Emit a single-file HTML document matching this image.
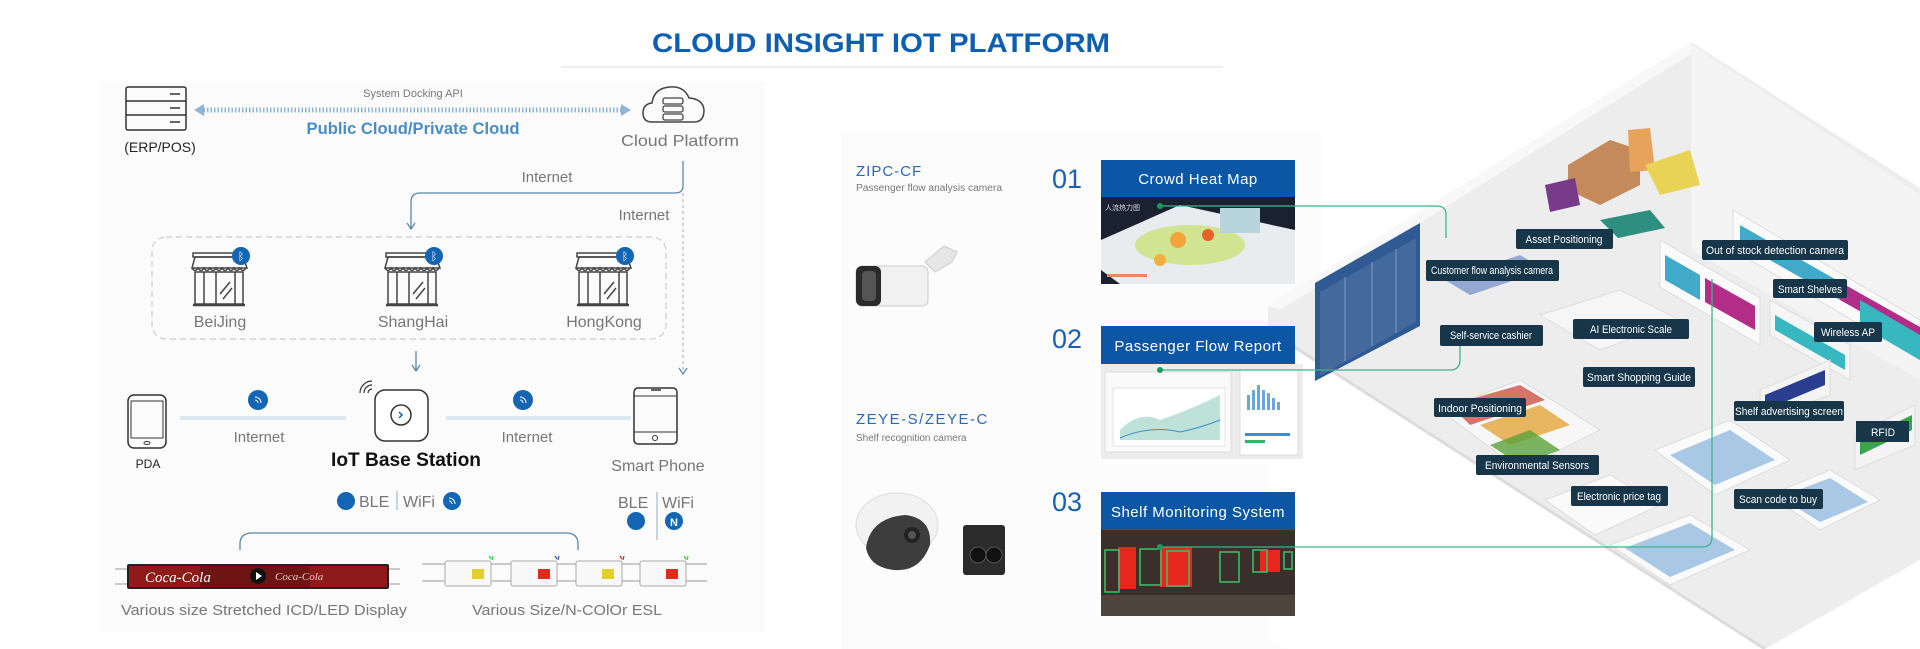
<!DOCTYPE html>
<html><head><meta charset="utf-8"><style>
html,body{margin:0;padding:0;background:#fff;}
svg{display:block;font-family:"Liberation Sans","Noto Sans CJK SC",sans-serif;}
</style></head><body>
<svg width="1920" height="649" viewBox="0 0 1920 649" xmlns="http://www.w3.org/2000/svg">
<defs>
<marker id="ah" markerWidth="10" markerHeight="10" refX="8" refY="5" orient="auto" markerUnits="userSpaceOnUse"><path d="M2,1 L8,5 L2,9" fill="none" stroke="#5a87a8" stroke-width="1.2"/></marker>
<g id="st" fill="none" stroke="#444" stroke-width="1.5">
<rect x="-27" y="-27" width="50" height="4"/>
<path d="M-28,-12 L-25,-23 L23,-23 L27,-12 Z"/>
<path d="M-28,-12 q3,5 6,0 q3,5 6,0 q3,5 6,0 q3,5 6,0 q3,5 6,0 q3,5 6,0 q3,5 6,0 q3,5 6,0 q3,5 6,0"/>
<rect x="-25" y="-8" width="48" height="32"/>
<line x1="-16" y1="-8" x2="-16" y2="24"/><line x1="-4" y1="-8" x2="-4" y2="24"/><line x1="15" y1="-8" x2="15" y2="24"/>
<line x1="0" y1="14" x2="10" y2="2"/><line x1="3" y1="19" x2="12" y2="8"/>
<line x1="-27" y1="25" x2="25" y2="25" stroke-width="2.5"/>
</g>
</defs>
<!-- backgrounds -->
<rect x="100" y="82" width="665" height="550" fill="#fbfbfb"/>
<rect x="841" y="132" width="480" height="517" fill="#fcfcfc"/>

<!-- store illustration -->
<polygon points="1268,306 1691,42 1920,188 1920,560 1765,649 1268,330" fill="#ededed"/>
<polygon points="1691,44 1691,250 1920,380 1920,195" fill="#f4f4f4"/>
<polygon points="1268,306 1691,42 1691,54 1280,310" fill="#f8f8f8"/>
<polygon points="1268,330 1765,649 1290,649 1268,640" fill="#fff"/>
<line x1="1268" y1="330" x2="1765" y2="649" stroke="#dcdcdc" stroke-width="3"/>
<polygon points="1315,283 1420,223 1420,326 1315,381" fill="#2f5a93"/>
<polygon points="1320,292 1416,238 1416,322 1320,376" fill="#44699c"/>
<g stroke="#7f9cc4" stroke-width="1"><line x1="1345" y1="277" x2="1345" y2="361"/><line x1="1372" y1="262" x2="1372" y2="346"/><line x1="1396" y1="249" x2="1396" y2="333"/></g>
<polygon points="1733,210 1920,320 1920,360 1733,250" fill="#fafafa" stroke="#ddd"/>
<polygon points="1740,225 1840,282 1840,300 1740,243" fill="#41a9c9"/>
<polygon points="1840,282 1920,327 1920,345 1840,300" fill="#b22d87"/>
<polygon points="1660,240 1760,298 1760,345 1660,287" fill="#fafafa" stroke="#ddd"/>
<polygon points="1665,255 1700,275 1700,300 1665,280" fill="#41a9c9"/>
<polygon points="1705,278 1755,306 1755,330 1705,302" fill="#b22d87"/>
<polygon points="1770,300 1850,345 1850,380 1770,335" fill="#f5f5f5" stroke="#ddd"/>
<polygon points="1775,315 1845,355 1845,370 1775,330" fill="#37b7c0"/>
<polygon points="1860,300 1920,335 1920,360 1860,325" fill="#37b7c0"/>
<polygon points="1568,165 1610,140 1640,150 1640,185 1600,205 1568,190" fill="#c48a5c"/>
<polygon points="1628,130 1650,128 1655,170 1630,172" fill="#e7a25c"/>
<polygon points="1645,165 1690,150 1700,185 1660,195" fill="#e9d354"/>
<polygon points="1545,185 1575,178 1580,205 1550,212" fill="#7a3a8a"/>
<polygon points="1600,220 1650,210 1665,228 1618,238" fill="#2e8e7f"/>
<polygon points="1445,280 1520,255 1545,270 1470,295" fill="#6c8cc9" opacity="0.7"/>
<polygon points="1540,315 1620,290 1680,320 1600,350" fill="#f6f6f6" stroke="#ddd"/>
<polygon points="1440,410 1520,380 1600,430 1520,470" fill="#f7f7f7" stroke="#ddd"/>
<polygon points="1450,405 1520,385 1545,400 1470,425" fill="#c73a2e" opacity="0.7"/>
<polygon points="1480,425 1540,405 1570,425 1510,445" fill="#e3a53a" opacity="0.8"/>
<polygon points="1490,445 1530,430 1560,450 1520,465" fill="#5aa33a" opacity="0.8"/>
<polygon points="1655,450 1730,420 1790,460 1715,495" fill="#fafafa" stroke="#ddd"/>
<polygon points="1670,455 1730,430 1775,460 1715,485" fill="#a9c8e6"/>
<polygon points="1770,495 1830,470 1880,500 1820,530" fill="#fafafa" stroke="#ddd"/>
<polygon points="1780,497 1830,478 1868,502 1820,522" fill="#a9c8e6"/>
<polygon points="1610,545 1690,515 1750,550 1670,585" fill="#fafafa" stroke="#ddd"/>
<polygon points="1625,548 1690,523 1735,550 1670,577" fill="#a9c8e6"/>
<polygon points="1545,500 1610,475 1660,505 1595,535" fill="#fafafa" stroke="#ddd"/>
<polygon points="1760,390 1830,360 1830,395 1760,420" fill="#f4f4f4" stroke="#ddd"/>
<polygon points="1765,395 1825,370 1825,385 1765,410" fill="#2a3d8f"/>
<polygon points="1855,435 1915,405 1915,445 1855,470" fill="#f4f4f4" stroke="#ddd"/>
<polygon points="1860,440 1912,415 1912,430 1860,455" fill="#3ba34a"/>

<!-- title -->
<text x="881" y="52" text-anchor="middle" font-size="27" font-weight="bold" fill="#0d5fb3" textLength="458" lengthAdjust="spacingAndGlyphs">CLOUD INSIGHT IOT PLATFORM</text>
<line x1="561" y1="67" x2="1223" y2="67" stroke="#dddddd" stroke-width="1"/>

<!-- server icon -->
<g fill="none" stroke="#333" stroke-width="1.5">
<rect x="126" y="87" width="60" height="43" rx="2"/>
<line x1="126" y1="101" x2="186" y2="101"/><line x1="126" y1="115" x2="186" y2="115"/>
<line x1="170" y1="94" x2="180" y2="94"/><line x1="170" y1="108" x2="180" y2="108"/><line x1="170" y1="122" x2="180" y2="122"/>
</g>
<text x="160" y="152" text-anchor="middle" font-size="14" fill="#222">(ERP/POS)</text>
<text x="413" y="97" text-anchor="middle" font-size="11" fill="#777">System Docking API</text>
<line x1="200" y1="110" x2="626" y2="110" stroke="#8fb6d8" stroke-width="5" stroke-dasharray="1.5 2"/>
<path d="M194,110 L204,104 L204,116Z M631,110 L621,104 L621,116Z" fill="#8fb6d8"/>
<text x="413" y="134" text-anchor="middle" font-size="17" font-weight="bold" fill="#4a8dc6" textLength="213" lengthAdjust="spacingAndGlyphs">Public Cloud/Private Cloud</text>
<path d="M652,122 Q643,122 643,113 Q643,104 652,103 Q654,88 670,87 Q684,86 689,98 Q703,99 704,110 Q704,122 694,122 Z" fill="none" stroke="#444" stroke-width="1.5"/>
<g fill="none" stroke="#444" stroke-width="1.3"><rect x="663" y="98" width="20" height="6" rx="2"/><rect x="663" y="106" width="20" height="6" rx="2"/><rect x="663" y="114" width="20" height="6" rx="2"/></g>
<text x="680" y="146" text-anchor="middle" font-size="16" fill="#777" textLength="118" lengthAdjust="spacingAndGlyphs">Cloud Platform</text>
<path d="M683,161 L683,186 Q683,193 675,193 L420,193 Q411,193 411,202 L411,229" fill="none" stroke="#5a87a8" stroke-width="1.3" marker-end="url(#ah)"/>
<text x="547" y="182" text-anchor="middle" font-size="15" fill="#777">Internet</text>
<path d="M683,193 L683,374" fill="none" stroke="#a8bfcf" stroke-width="1.2" stroke-dasharray="3 3" marker-end="url(#ah)"/>
<text x="644" y="220" text-anchor="middle" font-size="15" fill="#777">Internet</text>
<rect x="152" y="237" width="514" height="102" rx="14" fill="none" stroke="#ccc" stroke-width="1.2" stroke-dasharray="6 4"/>
<use href="#st" x="220" y="280"/><use href="#st" x="413" y="280"/><use href="#st" x="604" y="280"/>
<g fill="#1565b5"><circle cx="241" cy="256" r="9"/><circle cx="434" cy="256" r="9"/><circle cx="625" cy="256" r="9"/></g>
<g font-size="11" fill="#fff" text-anchor="middle"><text x="241" y="260">ᛒ</text><text x="434" y="260">ᛒ</text><text x="625" y="260">ᛒ</text></g>
<g font-size="16" fill="#777" text-anchor="middle"><text x="220" y="327">BeiJing</text><text x="413" y="327">ShangHai</text><text x="604" y="327">HongKong</text></g>
<line x1="416" y1="351" x2="416" y2="371" stroke="#5a87a8" stroke-width="1.3" marker-end="url(#ah)"/>
<rect x="128" y="395" width="38" height="53" rx="6" fill="none" stroke="#333" stroke-width="1.5"/>
<rect x="131" y="401" width="32" height="37" fill="none" stroke="#333" stroke-width="1"/>
<ellipse cx="147" cy="443" rx="3" ry="1.5" fill="none" stroke="#333"/>
<text x="148" y="468" text-anchor="middle" font-size="12" fill="#222">PDA</text>
<rect x="180" y="416" width="166" height="4" fill="#dbe8ef"/>
<rect x="446" y="416" width="185" height="4" fill="#dbe8ef"/>
<circle cx="258" cy="400" r="10" fill="#1565b5"/><circle cx="523" cy="400" r="10" fill="#1565b5"/>
<g stroke="#fff" fill="none" stroke-width="1"><path d="M255,397 a6,6 0 0 1 6,6 M255,400 a3,3 0 0 1 3,3"/><path d="M520,397 a6,6 0 0 1 6,6 M520,400 a3,3 0 0 1 3,3"/></g>
<text x="259" y="442" text-anchor="middle" font-size="15" fill="#777">Internet</text>
<text x="527" y="442" text-anchor="middle" font-size="15" fill="#777">Internet</text>
<rect x="375" y="390" width="53" height="51" rx="10" fill="#fff" stroke="#333" stroke-width="1.5"/>
<circle cx="401" cy="415" r="10" fill="none" stroke="#333" stroke-width="1.5"/>
<path d="M399,412 l3,3 l-3,3" fill="none" stroke="#1565b5" stroke-width="1.5"/>
<g fill="none" stroke="#333" stroke-width="1.2"><path d="M364,393 a8,8 0 0 1 8,-8"/><path d="M368,393 a4,4 0 0 1 4,-4"/><path d="M360,393 a12,12 0 0 1 12,-12"/></g>
<text x="406" y="466" text-anchor="middle" font-size="19" font-weight="bold" fill="#111" textLength="150" lengthAdjust="spacingAndGlyphs">IoT Base Station</text>
<rect x="634" y="388" width="43" height="56" rx="4" fill="none" stroke="#333" stroke-width="1.5"/>
<line x1="634" y1="396" x2="677" y2="396" stroke="#333"/><line x1="634" y1="432" x2="677" y2="432" stroke="#333"/>
<line x1="651" y1="390" x2="661" y2="390" stroke="#333" stroke-width="1.5"/>
<circle cx="655" cy="438" r="2.5" fill="none" stroke="#333"/>
<text x="658" y="471" text-anchor="middle" font-size="16" fill="#777">Smart Phone</text>
<circle cx="346" cy="501" r="9" fill="#1565b5"/>
<text x="359" y="507" font-size="16" fill="#777">BLE</text>
<line x1="397" y1="491" x2="397" y2="510" stroke="#c5d6e2" stroke-width="2"/>
<text x="403" y="507" font-size="16" fill="#777">WiFi</text>
<circle cx="452" cy="501" r="9" fill="#1565b5"/>
<path d="M449,498 a6,6 0 0 1 6,6 M449,501 a3,3 0 0 1 3,3" stroke="#fff" fill="none"/>
<text x="618" y="508" font-size="16" fill="#777">BLE</text>
<line x1="657" y1="492" x2="657" y2="540" stroke="#c5d6e2" stroke-width="2"/>
<text x="662" y="508" font-size="16" fill="#777">WiFi</text>
<circle cx="636" cy="521" r="9" fill="#1565b5"/><circle cx="674" cy="521" r="9" fill="#1565b5"/>
<text x="674" y="526" text-anchor="middle" font-size="11" font-weight="bold" fill="#fff">N</text>
<path d="M240,550 L240,544 Q240,533 252,533 L566,533 Q578,533 578,544 L578,550" fill="none" stroke="#5a87a8" stroke-width="1.3"/>
<line x1="115" y1="569" x2="400" y2="569" stroke="#999" stroke-width="1"/><line x1="115" y1="584" x2="400" y2="584" stroke="#999" stroke-width="1"/>
<rect x="127" y="564" width="262" height="25" rx="2" fill="#222"/>
<rect x="129" y="566" width="258" height="21" fill="#8e1a1a"/>
<rect x="200" y="566" width="110" height="21" fill="#5a1010" opacity="0.6"/>
<text x="145" y="582" font-size="15" font-style="italic" font-family="Liberation Serif,serif" fill="#fff">Coca-Cola</text>
<text x="275" y="580" font-size="11" font-style="italic" font-family="Liberation Serif,serif" fill="#e7c9c9">Coca-Cola</text>
<circle cx="258" cy="576" r="8" fill="#111"/><path d="M256,572 L262,576 L256,580Z" fill="#fff"/>
<line x1="422" y1="564" x2="707" y2="564" stroke="#999"/><line x1="422" y1="581" x2="707" y2="581" stroke="#999"/>
<g stroke="#aaa" fill="#f8f8f8">
<rect x="445" y="561" width="46" height="25" rx="2"/><rect x="511" y="561" width="46" height="25" rx="2"/><rect x="576" y="561" width="46" height="25" rx="2"/><rect x="640" y="561" width="46" height="25" rx="2"/>
</g>
<rect x="472" y="569" width="12" height="10" fill="#e2cf2a"/><rect x="538" y="569" width="12" height="10" fill="#e02a1d"/><rect x="602" y="569" width="12" height="10" fill="#e2cf2a"/><rect x="666" y="569" width="12" height="10" fill="#e02a1d"/>
<g stroke-width="1.2"><path d="M489,556 l2,3 M493,556 l-1,4" stroke="#3c3"/><path d="M555,556 l2,3 M559,556 l-1,4" stroke="#25a"/><path d="M620,556 l2,3 M624,556 l-1,4" stroke="#d23"/><path d="M684,556 l2,3 M688,556 l-1,4" stroke="#3c3"/></g>
<text x="264" y="615" text-anchor="middle" font-size="15" fill="#777" textLength="286" lengthAdjust="spacingAndGlyphs">Various size Stretched ICD/LED Display</text>
<text x="567" y="615" text-anchor="middle" font-size="15" fill="#777" textLength="190" lengthAdjust="spacingAndGlyphs">Various Size/N-COlOr ESL</text>

<!-- middle -->
<text x="856" y="176" font-size="15" fill="#2a68b8" letter-spacing="1">ZIPC-CF</text>
<text x="856" y="191" font-size="10" fill="#777" textLength="146" lengthAdjust="spacingAndGlyphs">Passenger flow analysis camera</text>
<path d="M925,262 L944,246 L957,252 L952,262 L935,272 Z" fill="#e7e7e7" stroke="#ccc"/>
<rect x="856" y="266" width="72" height="40" rx="6" fill="#f1f1f1" stroke="#ccc"/>
<rect x="856" y="266" width="25" height="40" rx="6" fill="#2a2a2a"/>
<rect x="862" y="271" width="14" height="30" rx="4" fill="#555"/>
<text x="856" y="424" font-size="15" fill="#2a68b8" letter-spacing="1.5">ZEYE-S/ZEYE-C</text>
<text x="856" y="441" font-size="10" fill="#777">Shelf recognition camera</text>
<ellipse cx="897" cy="525" rx="41" ry="32" fill="#f2f2f2" stroke="#ddd"/>
<path d="M866,548 Q870,518 905,515 Q932,518 930,545 Q920,572 895,570 Q870,568 866,548Z" fill="#3d3d3d"/>
<circle cx="912" cy="535" r="8" fill="#222"/><circle cx="912" cy="535" r="4" fill="#555"/>
<rect x="963" y="525" width="42" height="50" rx="3" fill="#2b2b2b"/>
<circle cx="978" cy="555" r="8" fill="#111" stroke="#555"/><circle cx="994" cy="555" r="8" fill="#111" stroke="#555"/>
<g font-size="27" fill="#1a5fb4"><text x="1052" y="188">01</text><text x="1052" y="348">02</text><text x="1052" y="511">03</text></g>
<!-- box 1 -->
<rect x="1101" y="160" width="194" height="37" fill="#0b57a6"/>
<text x="1198" y="184" text-anchor="middle" font-size="15" fill="#fff" letter-spacing="0.5">Crowd Heat Map</text>
<rect x="1101" y="197" width="194" height="87" fill="#1a2232"/>
<path d="M1101,240 L1180,205 L1295,230 L1295,284 L1120,284 L1101,270Z" fill="#e8ecef"/>
<ellipse cx="1190" cy="245" rx="55" ry="20" fill="#c9e27a" opacity="0.8"/>
<circle cx="1178" cy="240" r="8" fill="#f3a43a"/><circle cx="1208" cy="235" r="6" fill="#e9602a"/><circle cx="1160" cy="260" r="6" fill="#f0b040"/>
<rect x="1220" y="208" width="40" height="25" fill="#b8d4dc"/>
<text x="1105" y="210" font-size="7" fill="#ddd">人流热力图</text>
<rect x="1107" y="274" width="40" height="3" fill="#e85"/>
<!-- box 2 -->
<rect x="1101" y="326" width="194" height="38" fill="#0b57a6"/>
<text x="1198" y="351" text-anchor="middle" font-size="15" fill="#fff" letter-spacing="0.5">Passenger Flow Report</text>
<rect x="1101" y="364" width="202" height="95" fill="#ececec"/>
<rect x="1105" y="372" width="126" height="80" fill="#fafafa" stroke="#ddd"/>
<rect x="1113" y="388" width="112" height="58" fill="#fff" stroke="#e4e4e4"/>
<path d="M1120,430 Q1140,410 1160,420 Q1190,410 1220,395 L1220,440 L1120,440Z" fill="#bfe2d8"/>
<path d="M1120,438 Q1150,425 1180,432 Q1200,428 1220,420" fill="none" stroke="#3b8fd0"/>
<rect x="1240" y="370" width="58" height="85" fill="#fff" stroke="#ddd"/>
<g fill="#6aa6dc"><rect x="1247" y="395" width="3" height="15"/><rect x="1252" y="390" width="3" height="20"/><rect x="1257" y="385" width="3" height="25"/><rect x="1262" y="390" width="3" height="20"/><rect x="1267" y="393" width="3" height="17"/><rect x="1272" y="398" width="3" height="12"/><rect x="1277" y="402" width="3" height="8"/></g>
<rect x="1245" y="433" width="45" height="3" fill="#3b8fd0"/><rect x="1245" y="440" width="20" height="3" fill="#3bb06a"/>
<!-- box 3 -->
<rect x="1101" y="492" width="194" height="38" fill="#0b57a6"/>
<text x="1198" y="517" text-anchor="middle" font-size="15" fill="#fff" letter-spacing="0.5">Shelf Monitoring System</text>
<rect x="1101" y="530" width="194" height="86" fill="#3a2f2a"/>
<g fill="#e5271e"><rect x="1118" y="547" width="18" height="42"/><rect x="1160" y="547" width="32" height="40"/><rect x="1260" y="550" width="20" height="22"/></g>
<g fill="none" stroke="#3ac26a" stroke-width="1.5"><rect x="1105" y="550" width="14" height="42"/><rect x="1140" y="549" width="21" height="36"/><rect x="1167" y="551" width="22" height="35"/><rect x="1220" y="552" width="19" height="30"/><rect x="1253" y="550" width="14" height="22"/><rect x="1284" y="552" width="8" height="17"/></g>
<rect x="1101" y="595" width="194" height="21" fill="#4e443b"/>

<!-- green connector lines -->
<g fill="none" stroke="#3fb58a" stroke-width="1.3">
<path d="M1160,206 L1436,206 Q1446,206 1446,214 L1446,238"/>
<path d="M1160,370 L1450,370 Q1460,370 1460,360 L1460,335"/>
<path d="M1160,547 L1702,547 Q1712,547 1712,537 L1712,279"/>
</g>
<g fill="#1a9a5c"><circle cx="1160" cy="206" r="3"/><circle cx="1160" cy="370" r="3"/><circle cx="1160" cy="547" r="3"/></g>
<!-- labels -->
<g fill="#17364a">
<rect x="1516" y="229" width="97" height="20" rx="2"/>
<rect x="1426" y="260" width="133" height="21" rx="2"/>
<rect x="1702" y="240" width="146" height="20" rx="2"/>
<rect x="1773" y="279" width="74" height="19" rx="2"/>
<rect x="1814" y="322" width="68" height="20" rx="2"/>
<rect x="1573" y="319" width="116" height="20" rx="2"/>
<rect x="1440" y="325" width="103" height="21" rx="2"/>
<rect x="1583" y="367" width="112" height="20" rx="2"/>
<rect x="1434" y="398" width="92" height="19" rx="2"/>
<rect x="1734" y="401" width="110" height="20" rx="2"/>
<rect x="1856" y="421" width="53" height="21"/>
<rect x="1476" y="455" width="123" height="20" rx="2"/>
<rect x="1571" y="486" width="97" height="20" rx="2"/>
<rect x="1734" y="489" width="89" height="20" rx="2"/>
</g>
<g font-size="11" fill="#fff" text-anchor="middle">
<text x="1564" y="243" textLength="77" lengthAdjust="spacingAndGlyphs">Asset Positioning</text>
<text x="1492" y="274" textLength="122" lengthAdjust="spacingAndGlyphs">Customer flow analysis camera</text>
<text x="1775" y="254" textLength="138" lengthAdjust="spacingAndGlyphs">Out of stock detection camera</text>
<text x="1810" y="293" textLength="64" lengthAdjust="spacingAndGlyphs">Smart Shelves</text>
<text x="1848" y="336" textLength="54" lengthAdjust="spacingAndGlyphs">Wireless AP</text>
<text x="1631" y="333" textLength="82" lengthAdjust="spacingAndGlyphs">AI Electronic Scale</text>
<text x="1491" y="339" textLength="82" lengthAdjust="spacingAndGlyphs">Self-service cashier</text>
<text x="1639" y="381" textLength="104" lengthAdjust="spacingAndGlyphs">Smart Shopping Guide</text>
<text x="1480" y="412" textLength="84" lengthAdjust="spacingAndGlyphs">Indoor Positioning</text>
<text x="1789" y="415" textLength="108" lengthAdjust="spacingAndGlyphs">Shelf advertising screen</text>
<text x="1883" y="436" textLength="24" lengthAdjust="spacingAndGlyphs">RFID</text>
<text x="1537" y="469" textLength="104" lengthAdjust="spacingAndGlyphs">Environmental Sensors</text>
<text x="1619" y="500" textLength="84" lengthAdjust="spacingAndGlyphs">Electronic price tag</text>
<text x="1778" y="503" textLength="78" lengthAdjust="spacingAndGlyphs">Scan code to buy</text>
</g>
</svg>
</body></html>
